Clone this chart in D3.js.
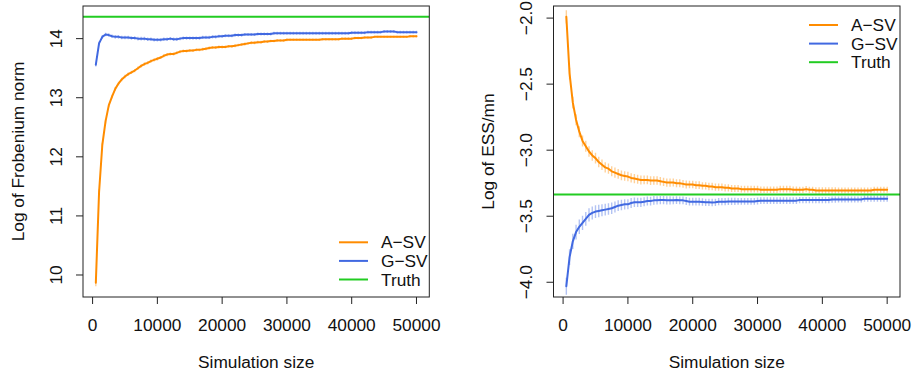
<!DOCTYPE html>
<html>
<head>
<meta charset="utf-8">
<script src="https://cdn.jsdelivr.net/npm/d3@7/dist/d3.min.js"></script>
<style>
  body { margin: 0; background: #fff; }
  svg { display: block; font-family: "Liberation Sans", Arial, Helvetica, sans-serif; }
</style>
</head>
<body>
<svg id="chart" width="914" height="373"></svg>
<script>
// Simulation sizes (x grid shared by both panels)
const simSizes = [
  500, 1000, 1500, 2000, 2500, 3000, 3500, 4000, 4500, 5000,
  5500, 6000, 6500, 7000, 7500, 8000, 8500, 9000, 9500, 10000,
  10500, 11000, 11500, 12000, 12500, 13000, 13500, 14000, 14500, 15000,
  15500, 16000, 16500, 17000, 17500, 18000, 18500, 19000, 19500, 20000,
  20500, 21000, 21500, 22000, 22500, 23000, 23500, 24000, 24500, 25000,
  25500, 26000, 26500, 27000, 27500, 28000, 28500, 29000, 29500, 30000,
  30500, 31000, 31500, 32000, 32500, 33000, 33500, 34000, 34500, 35000,
  35500, 36000, 36500, 37000, 37500, 38000, 38500, 39000, 39500, 40000,
  40500, 41000, 41500, 42000, 42500, 43000, 43500, 44000, 44500, 45000,
  45500, 46000, 46500, 47000, 47500, 48000, 48500, 49000, 49500, 50000
];

// Left panel: log Frobenium norm of the estimated covariance
const frobASV = [
  9.87, 11.40, 12.20, 12.60, 12.87, 13.02, 13.15, 13.24, 13.31, 13.36,
  13.40, 13.43, 13.46, 13.50, 13.54, 13.57, 13.59, 13.62, 13.64, 13.66,
  13.68, 13.71, 13.73, 13.74, 13.74, 13.76, 13.78, 13.79, 13.79, 13.80,
  13.80, 13.81, 13.81, 13.82, 13.83, 13.84, 13.85, 13.85, 13.86, 13.86,
  13.86, 13.87, 13.87, 13.88, 13.89, 13.90, 13.91, 13.92, 13.93, 13.93,
  13.94, 13.94, 13.95, 13.95, 13.96, 13.96, 13.97, 13.97, 13.97, 13.98,
  13.98, 13.98, 13.98, 13.98, 13.98, 13.98, 13.98, 13.98, 13.98, 13.98,
  13.99, 13.99, 13.99, 13.99, 13.99, 13.99, 14.00, 14.00, 14.00, 14.00,
  14.01, 14.01, 14.01, 14.02, 14.02, 14.02, 14.03, 14.03, 14.03, 14.03,
  14.03, 14.03, 14.03, 14.03, 14.03, 14.03, 14.03, 14.04, 14.04, 14.04
];
const frobASVErr = [
  0.06, 0.05, 0.04, 0.035, 0.03, 0.03, 0.03, 0.03, 0.03, 0.03,
  0.028, 0.028, 0.028, 0.028, 0.028, 0.028, 0.028, 0.028, 0.028, 0.028,
  0.026, 0.026, 0.026, 0.026, 0.026, 0.026, 0.026, 0.026, 0.026, 0.026,
  0.025, 0.025, 0.025, 0.025, 0.025, 0.025, 0.025, 0.025, 0.025, 0.025,
  0.024, 0.024, 0.024, 0.024, 0.024, 0.024, 0.024, 0.024, 0.024, 0.024,
  0.023, 0.023, 0.023, 0.023, 0.023, 0.023, 0.023, 0.023, 0.023, 0.023,
  0.022, 0.022, 0.022, 0.022, 0.022, 0.022, 0.022, 0.022, 0.022, 0.022,
  0.022, 0.022, 0.022, 0.022, 0.022, 0.022, 0.022, 0.022, 0.022, 0.022,
  0.021, 0.021, 0.021, 0.021, 0.021, 0.021, 0.021, 0.021, 0.021, 0.021,
  0.021, 0.021, 0.021, 0.021, 0.021, 0.021, 0.021, 0.021, 0.021, 0.021
];
const frobGSV = [
  13.56, 13.92, 14.03, 14.07, 14.06, 14.04, 14.03, 14.03, 14.02, 14.02,
  14.02, 14.01, 14.01, 14.00, 14.00, 14.00, 13.99, 13.99, 13.98, 13.98,
  13.98, 13.99, 13.99, 14.00, 13.99, 13.99, 14.00, 14.01, 14.01, 14.01,
  14.01, 14.01, 14.01, 14.02, 14.02, 14.02, 14.03, 14.03, 14.04, 14.04,
  14.05, 14.05, 14.05, 14.06, 14.06, 14.06, 14.07, 14.07, 14.07, 14.07,
  14.08, 14.08, 14.08, 14.08, 14.08, 14.09, 14.09, 14.09, 14.09, 14.09,
  14.09, 14.09, 14.09, 14.09, 14.09, 14.09, 14.09, 14.09, 14.09, 14.09,
  14.09, 14.09, 14.09, 14.09, 14.09, 14.09, 14.09, 14.09, 14.09, 14.10,
  14.10, 14.10, 14.10, 14.10, 14.11, 14.11, 14.11, 14.11, 14.11, 14.12,
  14.12, 14.12, 14.12, 14.11, 14.11, 14.11, 14.11, 14.11, 14.11, 14.11
];
const frobGSVErr = [
  0.03, 0.03, 0.03, 0.03, 0.03, 0.03, 0.03, 0.03, 0.03, 0.03,
  0.03, 0.03, 0.03, 0.03, 0.03, 0.03, 0.03, 0.03, 0.03, 0.03,
  0.028, 0.028, 0.028, 0.028, 0.028, 0.028, 0.028, 0.028, 0.028, 0.028,
  0.027, 0.027, 0.027, 0.027, 0.027, 0.027, 0.027, 0.027, 0.027, 0.027,
  0.026, 0.026, 0.026, 0.026, 0.026, 0.026, 0.026, 0.026, 0.026, 0.026,
  0.025, 0.025, 0.025, 0.025, 0.025, 0.025, 0.025, 0.025, 0.025, 0.025,
  0.025, 0.025, 0.025, 0.025, 0.025, 0.025, 0.025, 0.025, 0.025, 0.025,
  0.025, 0.025, 0.025, 0.025, 0.025, 0.025, 0.025, 0.025, 0.025, 0.025,
  0.025, 0.025, 0.025, 0.025, 0.025, 0.025, 0.025, 0.025, 0.025, 0.025,
  0.025, 0.025, 0.025, 0.025, 0.025, 0.025, 0.025, 0.025, 0.025, 0.025
];
const frobTruth = 14.37;

// Right panel: log of ESS / mn
const essASV = [
  -1.99, -2.42, -2.64, -2.77, -2.86, -2.93, -2.97, -3.01, -3.04, -3.06,
  -3.09, -3.11, -3.13, -3.14, -3.16, -3.17, -3.18, -3.19, -3.195, -3.20,
  -3.21, -3.215, -3.22, -3.225, -3.225, -3.225, -3.23, -3.23, -3.23, -3.235,
  -3.24, -3.245, -3.245, -3.245, -3.25, -3.25, -3.255, -3.26, -3.26, -3.26,
  -3.265, -3.265, -3.27, -3.27, -3.275, -3.275, -3.28, -3.28, -3.28, -3.285,
  -3.285, -3.29, -3.29, -3.29, -3.295, -3.295, -3.295, -3.295, -3.295, -3.295,
  -3.30, -3.30, -3.30, -3.30, -3.30, -3.30, -3.295, -3.295, -3.295, -3.295,
  -3.30, -3.30, -3.30, -3.30, -3.295, -3.30, -3.30, -3.305, -3.305, -3.305,
  -3.305, -3.305, -3.305, -3.305, -3.305, -3.305, -3.305, -3.305, -3.305, -3.305,
  -3.305, -3.305, -3.305, -3.305, -3.305, -3.30, -3.30, -3.30, -3.30, -3.30
];
const essASVErr = [
  0.05, 0.045, 0.045, 0.042, 0.042, 0.042, 0.042, 0.04, 0.04, 0.04,
  0.04, 0.04, 0.039, 0.039, 0.038, 0.038, 0.037, 0.037, 0.036, 0.036,
  0.035, 0.035, 0.034, 0.034, 0.033, 0.033, 0.033, 0.032, 0.032, 0.032,
  0.031, 0.031, 0.031, 0.03, 0.03, 0.03, 0.03, 0.03, 0.029, 0.029,
  0.029, 0.029, 0.028, 0.028, 0.028, 0.028, 0.028, 0.027, 0.027, 0.027,
  0.027, 0.027, 0.027, 0.026, 0.026, 0.026, 0.026, 0.026, 0.026, 0.026,
  0.025, 0.025, 0.025, 0.025, 0.025, 0.025, 0.025, 0.025, 0.025, 0.025,
  0.025, 0.025, 0.024, 0.024, 0.024, 0.024, 0.024, 0.024, 0.024, 0.024,
  0.024, 0.024, 0.024, 0.024, 0.023, 0.023, 0.023, 0.023, 0.023, 0.023,
  0.023, 0.023, 0.023, 0.023, 0.023, 0.023, 0.023, 0.023, 0.023, 0.023
];
const essGSV = [
  -4.03, -3.81, -3.69, -3.62, -3.58, -3.55, -3.52, -3.49, -3.475, -3.465,
  -3.46, -3.455, -3.45, -3.445, -3.44, -3.43, -3.42, -3.415, -3.41, -3.41,
  -3.40, -3.395, -3.395, -3.395, -3.39, -3.385, -3.385, -3.38, -3.38, -3.378,
  -3.378, -3.38, -3.38, -3.38, -3.378, -3.38, -3.38, -3.385, -3.39, -3.39,
  -3.39, -3.39, -3.392, -3.395, -3.395, -3.396, -3.395, -3.39, -3.39, -3.39,
  -3.388, -3.388, -3.388, -3.388, -3.388, -3.388, -3.388, -3.388, -3.388, -3.385,
  -3.382, -3.382, -3.382, -3.382, -3.382, -3.382, -3.382, -3.382, -3.382, -3.382,
  -3.382, -3.382, -3.378, -3.378, -3.378, -3.378, -3.378, -3.378, -3.378, -3.378,
  -3.378, -3.378, -3.374, -3.374, -3.374, -3.374, -3.374, -3.374, -3.374, -3.374,
  -3.374, -3.374, -3.367, -3.367, -3.367, -3.367, -3.367, -3.367, -3.367, -3.367
];
const essGSVErr = [
  0.065, 0.06, 0.058, 0.056, 0.055, 0.054, 0.052, 0.05, 0.049, 0.048,
  0.047, 0.046, 0.045, 0.044, 0.043, 0.042, 0.041, 0.04, 0.039, 0.038,
  0.037, 0.036, 0.035, 0.035, 0.034, 0.034, 0.033, 0.033, 0.032, 0.032,
  0.031, 0.031, 0.031, 0.03, 0.03, 0.03, 0.03, 0.03, 0.029, 0.029,
  0.029, 0.029, 0.028, 0.028, 0.028, 0.028, 0.028, 0.027, 0.027, 0.027,
  0.027, 0.027, 0.027, 0.026, 0.026, 0.026, 0.026, 0.026, 0.026, 0.026,
  0.025, 0.025, 0.025, 0.025, 0.025, 0.025, 0.025, 0.025, 0.025, 0.025,
  0.025, 0.025, 0.024, 0.024, 0.024, 0.024, 0.024, 0.024, 0.024, 0.024,
  0.024, 0.024, 0.024, 0.024, 0.023, 0.023, 0.023, 0.023, 0.023, 0.023,
  0.023, 0.023, 0.023, 0.023, 0.023, 0.023, 0.023, 0.023, 0.023, 0.023
];
const essTruth = -3.336;

// Axis ticks and labels
const xTicks = [0, 10000, 20000, 30000, 40000, 50000];
const frobTicks = [10, 11, 12, 13, 14];
const essTicks = [-4.0, -3.5, -3.0, -2.5, -2.0];
const legendLabels = ["A\u2212SV", "G\u2212SV", "Truth"];
const xTitle = "Simulation size";

const COL = { asv: "#ff8c00", gsv: "#4169e1", truth: "#22cc22" };
const FS = 17.3;

const svg = d3.select("#chart");

// R-style axis range: data range expanded by 4% on each side
function pad(lo, hi) {
  const d = (hi - lo) * 0.04;
  return [lo - d, hi + d];
}

function drawPanel(cfg) {
  const { left, right, top, bottom } = cfg.box;
  const x = d3.scaleLinear().domain(pad(d3.min(simSizes), d3.max(simSizes))).range([left, right]);
  const y = d3.scaleLinear().domain(pad(cfg.yLim[0], cfg.yLim[1])).range([bottom, top]);
  const g = svg.append("g");

  // clip to the plotting region
  const clipId = "clip-" + cfg.id;
  g.append("clipPath").attr("id", clipId)
    .append("rect").attr("x", left).attr("y", top).attr("width", right - left).attr("height", bottom - top);
  const plot = g.append("g").attr("clip-path", `url(#${clipId})`);

  cfg.series.forEach(s => {
    const pts = simSizes.map((n, i) => ({ n, v: s.values[i], e: s.err[i] }));
    // interval bars around each estimate
    plot.append("g")
      .selectAll("line")
      .data(pts)
      .join("line")
      .attr("x1", d => x(d.n)).attr("x2", d => x(d.n))
      .attr("y1", d => y(d.v - d.e)).attr("y2", d => y(d.v + d.e))
      .attr("stroke", s.color).attr("stroke-opacity", 0.4).attr("stroke-width", 1.4);
    // mean curve
    plot.append("path")
      .attr("d", d3.line().x(d => x(d.n)).y(d => y(d.v))(pts))
      .attr("fill", "none").attr("stroke", s.color).attr("stroke-width", 2)
      .attr("stroke-linejoin", "round").attr("stroke-linecap", "round");
  });

  // true value
  plot.append("line")
    .attr("x1", left).attr("x2", right)
    .attr("y1", y(cfg.truth)).attr("y2", y(cfg.truth))
    .attr("stroke", COL.truth).attr("stroke-width", 2);

  // frame
  g.append("rect")
    .attr("x", left).attr("y", top).attr("width", right - left).attr("height", bottom - top)
    .attr("fill", "none").attr("stroke", "#222").attr("stroke-width", 1);

  // x axis
  const xa = g.append("g");
  xa.selectAll("line").data(xTicks).join("line")
    .attr("x1", d => x(d)).attr("x2", d => x(d))
    .attr("y1", bottom).attr("y2", bottom + 7)
    .attr("stroke", "#222");
  xa.selectAll("text").data(xTicks).join("text")
    .attr("x", d => x(d)).attr("y", bottom + 34)
    .attr("text-anchor", "middle").attr("font-size", FS).attr("fill", "#111")
    .text(d => d3.format("d")(d));
  g.append("text")
    .attr("x", (left + right) / 2).attr("y", bottom + 71)
    .attr("text-anchor", "middle").attr("font-size", FS).attr("fill", "#111")
    .text(xTitle);

  // y axis
  const ya = g.append("g");
  ya.selectAll("line").data(cfg.yTicks).join("line")
    .attr("x1", left - 7).attr("x2", left)
    .attr("y1", d => y(d)).attr("y2", d => y(d))
    .attr("stroke", "#222");
  ya.selectAll("text").data(cfg.yTicks).join("text")
    .attr("transform", d => `translate(${left - 21.5},${y(d)}) rotate(-90)`)
    .attr("text-anchor", "middle").attr("font-size", FS).attr("fill", "#111")
    .text(d => cfg.yFmt(d).replace("-", "\u2212"));
  g.append("text")
    .attr("transform", `translate(${left - cfg.titleOffset},${(top + bottom) / 2}) rotate(-90)`)
    .attr("text-anchor", "middle").attr("font-size", FS).attr("fill", "#111")
    .text(cfg.yTitle);

  // legend
  const lg = g.append("g");
  const items = [COL.asv, COL.gsv, COL.truth];
  items.forEach((c, i) => {
    const ly = cfg.legend.y + i * 18.6;
    lg.append("line")
      .attr("x1", cfg.legend.x).attr("x2", cfg.legend.x + 29)
      .attr("y1", ly).attr("y2", ly)
      .attr("stroke", c).attr("stroke-width", 2);
    lg.append("text")
      .attr("x", cfg.legend.x + 42).attr("y", ly + 6)
      .attr("font-size", FS).attr("fill", "#111")
      .text(legendLabels[i]);
  });
}

drawPanel({
  id: "frob",
  box: { left: 83, right: 429.3, top: 6, bottom: 297 },
  yLim: [9.81, 14.37],
  yTicks: frobTicks,
  yFmt: d3.format("d"),
  yTitle: "Log of Frobenium norm",
  titleOffset: 59,
  truth: frobTruth,
  series: [
    { values: frobASV, err: frobASVErr, color: COL.asv },
    { values: frobGSV, err: frobGSVErr, color: COL.gsv }
  ],
  legend: { x: 339, y: 242.3 }
});

drawPanel({
  id: "ess",
  box: { left: 553.5, right: 900, top: 6, bottom: 297 },
  yLim: [-4.03, -1.99],
  yTicks: essTicks,
  yFmt: d3.format(".1f"),
  yTitle: "Log of ESS/mn",
  titleOffset: 59.5,
  truth: essTruth,
  series: [
    { values: essASV, err: essASVErr, color: COL.asv },
    { values: essGSV, err: essGSVErr, color: COL.gsv }
  ],
  legend: { x: 809, y: 25 }
});
</script>
</body>
</html>
